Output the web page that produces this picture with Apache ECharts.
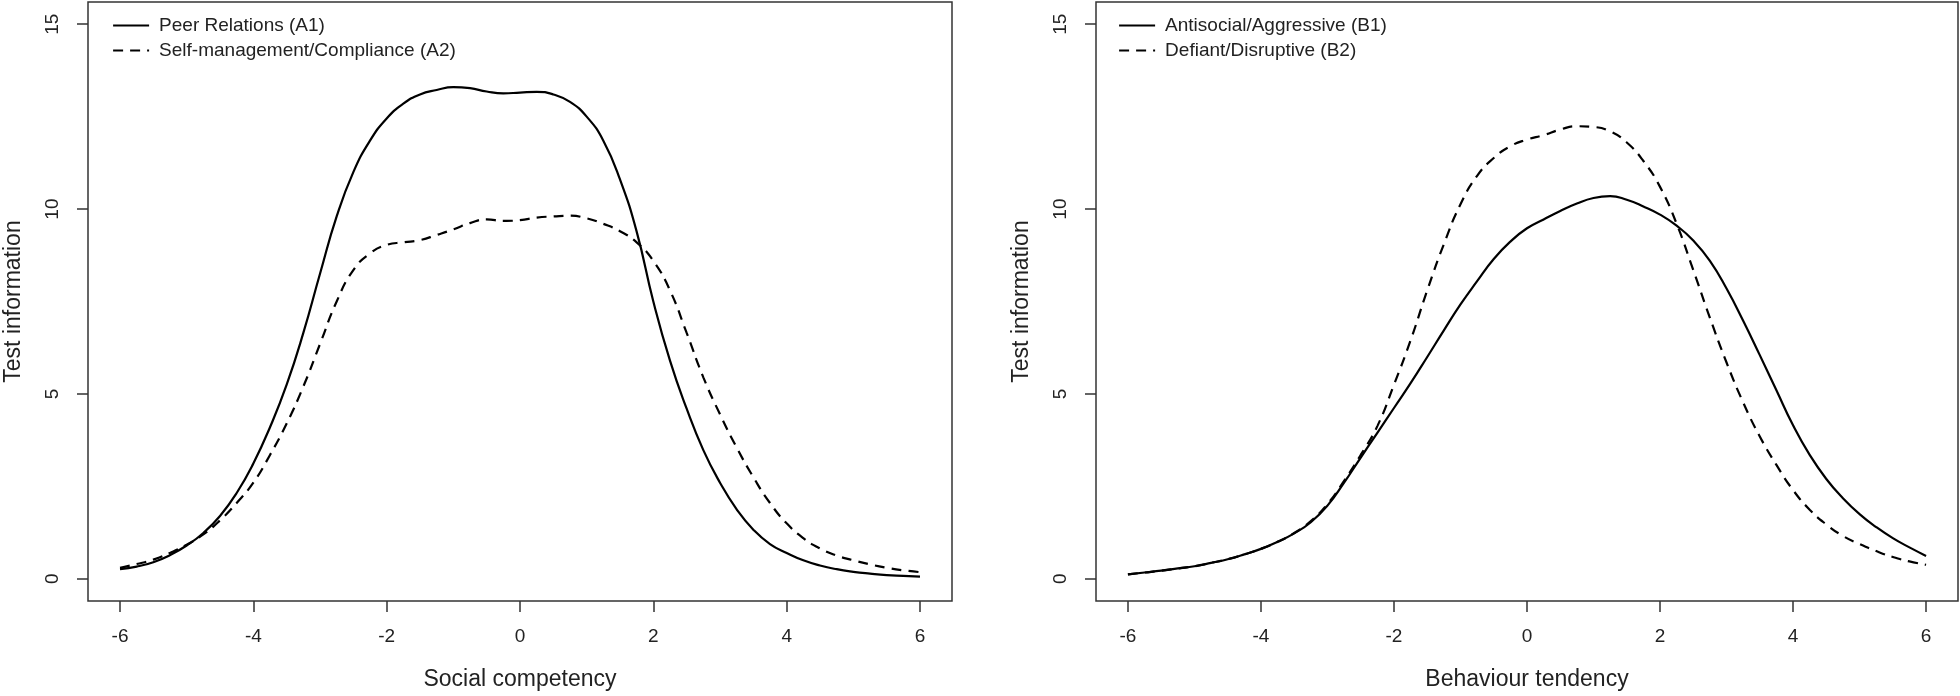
<!DOCTYPE html>
<html>
<head>
<meta charset="utf-8">
<script src="https://cdn.jsdelivr.net/npm/echarts@6/dist/echarts.min.js"></script>
<style>
  html, body { margin: 0; padding: 0; background: #fff; }
  #chart { width: 1960px; height: 696px; }
</style>
</head>
<body>
<div id="chart"></div>
<script>
// ---- data ----
const thetaValues = [
  -6.0, -5.75, -5.5, -5.25, -5.0, -4.75, -4.5, -4.25, -4.0, -3.75, -3.5, -3.25,
  -3.0, -2.75, -2.5, -2.25, -2.0, -1.75, -1.5, -1.25, -1.0, -0.75, -0.5, -0.25,
  0.0, 0.25, 0.5, 0.75, 1.0, 1.25, 1.5, 1.75, 2.0, 2.25, 2.5, 2.75,
  3.0, 3.25, 3.5, 3.75, 4.0, 4.25, 4.5, 4.75, 5.0, 5.25, 5.5, 5.75, 6.0
];
const peerRelationsA1 = [
  0.26, 0.33, 0.45, 0.64, 0.9, 1.24, 1.7, 2.32, 3.12, 4.1, 5.25, 6.65,
  8.25, 9.8, 11.0, 11.85, 12.45, 12.85, 13.1, 13.22, 13.3, 13.27, 13.18, 13.13,
  13.15, 13.17, 13.1, 12.9, 12.5, 11.85, 10.8, 9.39, 7.5, 5.9, 4.6, 3.48,
  2.6, 1.88, 1.33, 0.94, 0.7, 0.5, 0.36, 0.26, 0.19, 0.14, 0.1, 0.08, 0.06
];
const selfManagementA2 = [
  0.3, 0.4, 0.52, 0.7, 0.92, 1.2, 1.58, 2.05, 2.6, 3.35, 4.2, 5.2,
  6.35, 7.5, 8.35, 8.8, 9.03, 9.1, 9.16, 9.3, 9.45, 9.62, 9.72, 9.68,
  9.7, 9.77, 9.8, 9.82, 9.75, 9.6, 9.4, 9.1, 8.6, 7.8, 6.65, 5.45,
  4.45, 3.55, 2.75, 2.05, 1.5, 1.1, 0.82, 0.63, 0.5, 0.39, 0.3, 0.23, 0.18
];
const antisocialB1 = [
  0.12, 0.17, 0.22, 0.28, 0.34, 0.43, 0.53, 0.66, 0.81, 1.0, 1.23, 1.53,
  1.98, 2.6, 3.28, 3.95, 4.62, 5.29, 6.0, 6.72, 7.42, 8.05, 8.65, 9.12,
  9.48, 9.72, 9.95, 10.15, 10.3, 10.35, 10.25, 10.07, 9.85, 9.55, 9.15, 8.6,
  7.85, 6.98, 6.05, 5.1, 4.15, 3.35, 2.7, 2.18, 1.75, 1.4, 1.1, 0.85, 0.62
];
const defiantB2 = [
  0.12, 0.17, 0.22, 0.28, 0.34, 0.43, 0.53, 0.66, 0.81, 1.0, 1.24, 1.56,
  2.02, 2.65, 3.35, 4.13, 5.25, 6.45, 7.8, 9.05, 10.13, 10.9, 11.38, 11.7,
  11.88, 12.0, 12.15, 12.24, 12.22, 12.1, 11.8, 11.3, 10.6, 9.6, 8.35, 7.06,
  5.85, 4.77, 3.85, 3.08, 2.4, 1.87, 1.47, 1.16, 0.94, 0.75, 0.59, 0.47, 0.38
];
const xTickValues = [-6, -4, -2, 0, 2, 4, 6];
const yTickValues = [0, 5, 10, 15];
const seriesNames = [
  'Peer Relations (A1)', 'Self-management/Compliance (A2)',
  'Antisocial/Aggressive (B1)', 'Defiant/Disruptive (B2)'
];
const xTitles = ['Social competency', 'Behaviour tendency'];
const yTitle = 'Test information';

// ---- chart ----
const FONT = '"Liberation Sans", Arial, sans-serif';
const TXT = '#222';
const AX = '#333';
const pairs = (vals) => thetaValues.map((x, i) => [x, vals[i]]);

function xAxis(gi, name) {
  return {
    type: 'value', gridIndex: gi, min: -6.48, max: 6.48,
    name: name, nameLocation: 'middle', nameGap: 67,
    nameTextStyle: { fontFamily: FONT, fontSize: 23, color: TXT },
    axisLine: { show: false, onZero: false },
    splitLine: { show: false },
    axisTick: { show: true, length: 11, customValues: xTickValues,
                lineStyle: { color: AX, width: 1.5 } },
    axisLabel: { customValues: xTickValues, fontFamily: FONT, fontSize: 19,
                 color: TXT, margin: 26 }
  };
}
function yAxis(gi) {
  return {
    type: 'value', gridIndex: gi, min: -0.6, max: 15.6,
    name: yTitle, nameLocation: 'middle', nameGap: 63, nameRotate: 90,
    nameTextStyle: { fontFamily: FONT, fontSize: 23, color: TXT },
    axisLine: { show: false, onZero: false },
    splitLine: { show: false },
    axisTick: { show: true, length: 11, customValues: yTickValues,
                lineStyle: { color: AX, width: 1.5 } },
    axisLabel: { customValues: yTickValues, rotate: 90, fontFamily: FONT,
                 fontSize: 19, color: TXT, margin: 26 }
  };
}
function line(name, vals, gi, dashed) {
  return {
    name: name, type: 'line', xAxisIndex: gi, yAxisIndex: gi,
    data: pairs(vals), smooth: 0.5, showSymbol: false, symbol: 'none',
    silent: true, animation: false,
    lineStyle: { color: '#000', width: 2.2, type: dashed ? [10, 7] : 'solid' },
    itemStyle: { color: '#000' }
  };
}
function legend(left, names) {
  return {
    orient: 'vertical', left: left, top: 11, data: names,
    itemWidth: 36, itemHeight: 14, itemGap: 6,
    itemStyle: { opacity: 0 },
    lineStyle: { width: 2.2, color: '#000' },
    textStyle: { fontFamily: FONT, fontSize: 19, color: TXT, padding: [0, 0, 0, 5] },
    selectedMode: false
  };
}

const chart = echarts.init(document.getElementById('chart'), null, { renderer: 'canvas' });
chart.setOption({
  backgroundColor: '#fff',
  animation: false,
  grid: [
    { left: 88, top: 2, width: 864, height: 599, show: true,
      borderColor: AX, borderWidth: 1.5, backgroundColor: 'transparent' },
    { left: 1096, top: 2, width: 862, height: 599, show: true,
      borderColor: AX, borderWidth: 1.5, backgroundColor: 'transparent' }
  ],
  xAxis: [xAxis(0, xTitles[0]), xAxis(1, xTitles[1])],
  yAxis: [yAxis(0), yAxis(1)],
  legend: [
    legend(107, [seriesNames[0], seriesNames[1]]),
    legend(1113, [seriesNames[2], seriesNames[3]])
  ],
  series: [
    line(seriesNames[0], peerRelationsA1, 0, false),
    line(seriesNames[1], selfManagementA2, 0, true),
    line(seriesNames[2], antisocialB1, 1, false),
    line(seriesNames[3], defiantB2, 1, true)
  ]
});
</script>
</body>
</html>
